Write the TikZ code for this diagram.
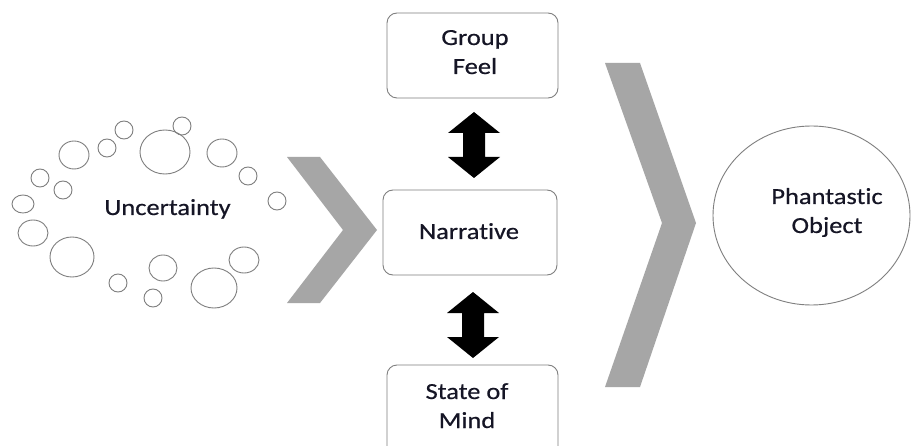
\documentclass[tikz,border=0pt]{standalone}
\usepackage{fontspec}
\setmainfont[FakeStretch=1.15, FakeBold=0.5, Ligatures=NoCommon]{Carlito}
\usetikzlibrary{shapes.geometric}
\definecolor{chev}{HTML}{A6A6A6}
\definecolor{edge}{HTML}{7F7F7F}
\definecolor{ink}{HTML}{151525}
\tikzset{
  txt/.style={font=\fontsize{23}{29}\selectfont, text=ink, align=center, anchor=base, inner sep=0pt},
  bubble/.style={draw=edge, line width=0.9pt},
  rbox/.style={draw=edge, line width=0.9pt, rounded corners=10pt, fill=white},
  chevron/.style={fill=chev, draw=none},
  barrow/.style={fill=black, draw=none}
}
\begin{document}
\begin{tikzpicture}[x=1pt,y=-1pt]
\useasboundingbox (0,0) rectangle (912,446);
\clip (0,0) rectangle (912,446);
\fill[white] (0,0) rectangle (912,446);
% bubbles
\foreach \cx/\cy/\rx/\ry in {182/126/9/9, 124/130/9/9, 107/148/9/9, 165/152/25/22,
  74/155/15/14, 222/153/15/14, 248/176/9/9, 40/178/9/9, 63/190/9/9, 23/204/11/9,
  277/201/9/9, 33/233/15/13, 72/257/22/20, 163/268/14/13, 244/260/15/13,
  118/283/9/9, 153/298/9/9, 214/288/23/20}
  \draw[bubble] (\cx,\cy) ellipse [x radius=\rx, y radius=\ry];
\node[txt] (unc) at (167.5,215) {Uncertainty};
% chevrons
\fill[chevron] (287,157) -- (320,157) -- (377,230) -- (320,303) -- (287,303) -- (343,230) -- cycle;
\fill[chevron] (605,63) -- (640,63) -- (696,223) -- (640,387) -- (605,387) -- (662,223) -- cycle;
% boxes
\draw[rbox] (387,13) rectangle (558,98);
\draw[rbox] (383,190) rectangle (557,275);
\draw[rbox] (387,365) rectangle (558,460);
\node[txt] (gf) at (475,74) {Group\\Feel};
\node[txt] (nar) at (469,239) {Narrative};
\node[txt] (som) at (467,428) {State of\\Mind};
% double block arrows
\fill[barrow] (474,112) -- (500,133) -- (485,133) -- (485,157) -- (500,157) -- (474,178)
  -- (448,157) -- (463,157) -- (463,133) -- (448,133) -- cycle;
\fill[barrow] (473,292) -- (499,313) -- (484,313) -- (484,337) -- (499,337) -- (473,358)
  -- (447,337) -- (462,337) -- (462,313) -- (447,313) -- cycle;
% phantastic object
\node[ellipse, draw=edge, line width=0.9pt, minimum width=197pt, minimum height=179pt, inner sep=0pt] (po) at (811.5,215.5) {};
\node[txt] (pot) at (827,233) {Phantastic\\Object};
\end{tikzpicture}
\end{document}
